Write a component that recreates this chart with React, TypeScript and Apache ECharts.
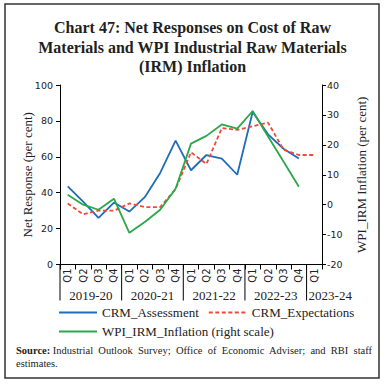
import React, { useEffect, useRef } from "react";
import * as echarts from "echarts";

const quarters = ["Q1", "Q2", "Q3", "Q4", "Q1", "Q2", "Q3", "Q4", "Q1", "Q2", "Q3", "Q4", "Q1", "Q2", "Q3", "Q4", "Q1"];
const years = ["2019-20", "2020-21", "2021-22", "2022-23", "2023-24"];
const yearStarts = [0, 4, 8, 12, 16];
const yearLengths = [4, 4, 4, 4, 1];

const crmAssessment = [43.5, 35, 26, 34.5, 29.5, 37.5, 51, 69, 52.5, 61, 59, 50, 85, 72.5, 64.5, 59, null];
const crmExpectations = [34, 28, 30, 30, 34, 32, 32, 42, 62.5, 56, 76, 75, 77, 79, 64, 61, 61];
const wpiIrmInflation = [3.3, 0, -1.7, 2, -9.4, -5.8, -1.7, 5.3, 20.4, 23, 26.8, 25.4, 31.3, 22.8, 14.4, 6, null];

const leftMin = 0;
const leftMax = 100;
const leftInterval = 20;
const rightMin = -20;
const rightMax = 40;
const rightInterval = 10;

const serif = "Liberation Serif";
const sans = "DejaVu Sans";

export default function App() {
  const ref = useRef<HTMLDivElement>(null);
  useEffect(() => {
    const chart = echarts.init(ref.current!, null, { renderer: "svg" });
    const axisLabel = { fontFamily: sans, fontSize: 9.5, color: "#222" };
    const legendCommon = {
      itemWidth: 38,
      itemHeight: 8,
      padding: 0,
      itemStyle: { opacity: 0 },
      textStyle: { fontFamily: serif, fontSize: 13, color: "#222" },
    };
    const option: any = {
      animation: false,
      backgroundColor: "#fff",
      title: {
        text: "Chart 47: Net Responses on Cost of Raw\nMaterials and WPI Industrial Raw Materials\n(IRM) Inflation",
        left: "center",
        top: 13,
        textStyle: { fontFamily: serif, fontWeight: "bold", fontSize: 16, lineHeight: 19.5, color: "#231f20" },
      },
      grid: { left: 60, right: 63, top: 85, bottom: 119.5 },
      xAxis: {
        type: "category",
        data: quarters,
        boundaryGap: true,
        axisLine: { lineStyle: { color: "#000", width: 1 } },
        axisTick: { show: true, interval: 0, length: 5, lineStyle: { color: "#000" } },
        axisLabel: { ...axisLabel, fontSize: 10, margin: 4, interval: 0, rotate: 90 },
      },
      yAxis: [
        {
          type: "value",
          min: leftMin,
          max: leftMax,
          interval: leftInterval,
          position: "left",
          name: "Net Response (per cent)",
          nameLocation: "middle",
          nameRotate: 90,
          nameGap: 26,
          nameMoveOverlap: false,
          nameTextStyle: { fontFamily: serif, fontSize: 13, color: "#222" },
          axisLine: { show: true, lineStyle: { color: "#000" } },
          axisTick: { show: true, length: 4, lineStyle: { color: "#000" } },
          axisLabel: { ...axisLabel, margin: 7 },
          splitLine: { show: false },
        },
        {
          type: "value",
          min: rightMin,
          max: rightMax,
          interval: rightInterval,
          position: "right",
          name: "WPI_IRM Inflation (per cent)",
          nameLocation: "middle",
          nameRotate: 90,
          nameGap: 33,
          nameMoveOverlap: false,
          nameTextStyle: { fontFamily: serif, fontSize: 13, color: "#222" },
          axisLine: { show: true, lineStyle: { color: "#000" } },
          axisTick: { show: true, length: 4, lineStyle: { color: "#000" } },
          axisLabel: { ...axisLabel, margin: 5 },
          splitLine: { show: false },
        },
      ],
      legend: [
        {
          ...legendCommon,
          data: ["CRM_Assessment", "CRM_Expectations"],
          left: 58,
          top: 306,
          itemGap: 9,
        },
        {
          ...legendCommon,
          data: ["WPI_IRM_Inflation (right scale)"],
          left: 58,
          top: 325,
        },
      ],
      series: [
        {
          name: "CRM_Assessment",
          type: "line",
          yAxisIndex: 0,
          data: crmAssessment,
          symbol: "none",
          lineStyle: { color: "#1f6cb8", width: 1.8 },
          itemStyle: { color: "#1f6cb8" },
        },
        {
          name: "CRM_Expectations",
          type: "line",
          yAxisIndex: 0,
          data: crmExpectations,
          symbol: "none",
          lineStyle: { color: "#f2473b", width: 1.8, type: [4, 2.5] },
          itemStyle: { color: "#f2473b" },
        },
        {
          name: "WPI_IRM_Inflation (right scale)",
          type: "line",
          yAxisIndex: 1,
          data: wpiIrmInflation,
          symbol: "none",
          lineStyle: { color: "#2aa84a", width: 1.8 },
          itemStyle: { color: "#2aa84a" },
        },
      ],
    };
    chart.setOption(option);

    const c0 = chart.convertToPixel({ xAxisIndex: 0 }, 0) as number;
    const c1 = chart.convertToPixel({ xAxisIndex: 0 }, 1) as number;
    const w = c1 - c0;
    const base = chart.convertToPixel({ yAxisIndex: 0 }, leftMin) as number;
    const graphics: any[] = [
      {
        type: "rect",
        shape: { x: 5, y: 4, width: 374, height: 374 },
        style: { fill: "none", stroke: "#333", lineWidth: 1.5 },
        silent: true,
      },
      {
        type: "text",
        x: 16,
        y: 344,
        style: {
          text: "{b|Source:} Industrial  Outlook  Survey;  Office  of  Economic  Adviser;  and  RBI  staff\nestimates.",
          fontFamily: serif,
          fontSize: 10.5,
          lineHeight: 13.3,
          fill: "#222",
          rich: { b: { fontWeight: "bold", fontFamily: serif, fontSize: 10.5, fill: "#222" } },
        },
      },
    ];
    years.forEach((yr, k) => {
      const x0 = c0 - w / 2 + w * yearStarts[k];
      graphics.push({
        type: "line",
        shape: { x1: x0, y1: base, x2: x0, y2: base + 36 },
        style: { stroke: "#000", lineWidth: 1 },
      });
      const last = yearLengths[k] < 4;
      graphics.push({
        type: "text",
        x: last ? x0 + 2 : x0 + (w * yearLengths[k]) / 2,
        y: base + 31,
        style: {
          text: yr,
          fontFamily: serif,
          fontSize: 13,
          fill: "#222",
          align: last ? "left" : "center",
          verticalAlign: "middle",
        },
      });
    });
    chart.setOption({ graphic: graphics });
    return () => chart.dispose();
  }, []);
  return <div ref={ref} style={{ position: "fixed", left: 0, top: 0, width: 385, height: 384 }} />;
}
